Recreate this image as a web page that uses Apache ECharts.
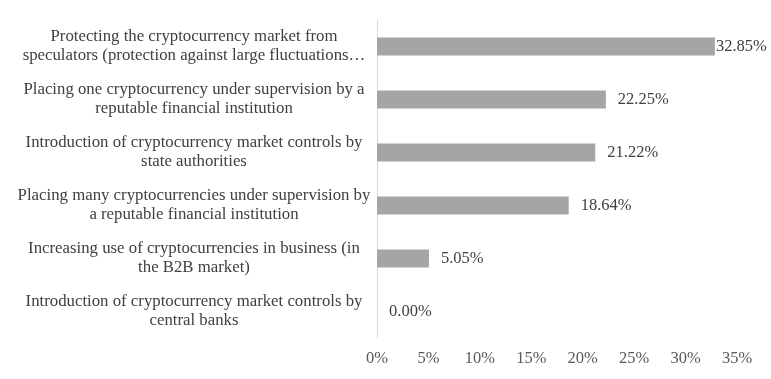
<!DOCTYPE html>
<html>
<head>
<meta charset="utf-8">
<script src="https://cdn.jsdelivr.net/npm/echarts@6/dist/echarts.min.js"></script>
<style>html,body{margin:0;padding:0;background:#fff;}#c{width:771px;height:379px;}</style>
</head>
<body>
<div id="c"></div>
<script>
// Categories listed top to bottom
const categories = [
  "Protecting the cryptocurrency market from\nspeculators (protection against large fluctuations…",
  "Placing one cryptocurrency under supervision by a\nreputable financial institution",
  "Introduction of cryptocurrency market controls by\nstate authorities",
  "Placing many cryptocurrencies under supervision by\na reputable financial institution",
  "Increasing use of cryptocurrencies in business (in\nthe B2B market)",
  "Introduction of cryptocurrency market controls by\ncentral banks"
];
const values = [32.85, 22.25, 21.22, 18.64, 5.05, 0.00];
const tickMin = 0, tickMax = 35, tickStep = 5;

const chart = echarts.init(document.getElementById('c'), null, {renderer: 'canvas'});
const font = '"Liberation Serif", "Times New Roman", serif';
chart.setOption({
  animation: false,
  backgroundColor: '#ffffff',
  textStyle: {fontFamily: font},
  grid: {left: 377, right: 34, top: 20, bottom: 41, containLabel: false},
  xAxis: {
    type: 'value', min: tickMin, max: tickMax, interval: tickStep,
    axisLine: {show: false}, axisTick: {show: false}, splitLine: {show: false},
    axisLabel: {formatter: v => v + '%', color: '#595959', fontSize: 16.5, fontFamily: font, margin: 12}
  },
  yAxis: {
    type: 'category', data: categories.slice().reverse(),
    axisLine: {show: true, lineStyle: {color: '#d9d9d9', width: 1}},
    axisTick: {show: false},
    axisLabel: {color: '#404040', fontSize: 16.8, fontFamily: font, align: 'center', margin: 183, lineHeight: 19, padding: [8, 0, 0, 0]}
  },
  series: [{
    type: 'bar',
    data: values.slice().reverse().map(v => ({
      value: v,
      label: {distance: v > 30 ? 1 : 12}
    })),
    barWidth: 18,
    itemStyle: {color: '#a5a5a5'},
    label: {show: true, position: 'right', formatter: p => p.value.toFixed(2) + '%', color: '#404040', fontSize: 16.5, fontFamily: font}
  }]
});
</script>
</body>
</html>
